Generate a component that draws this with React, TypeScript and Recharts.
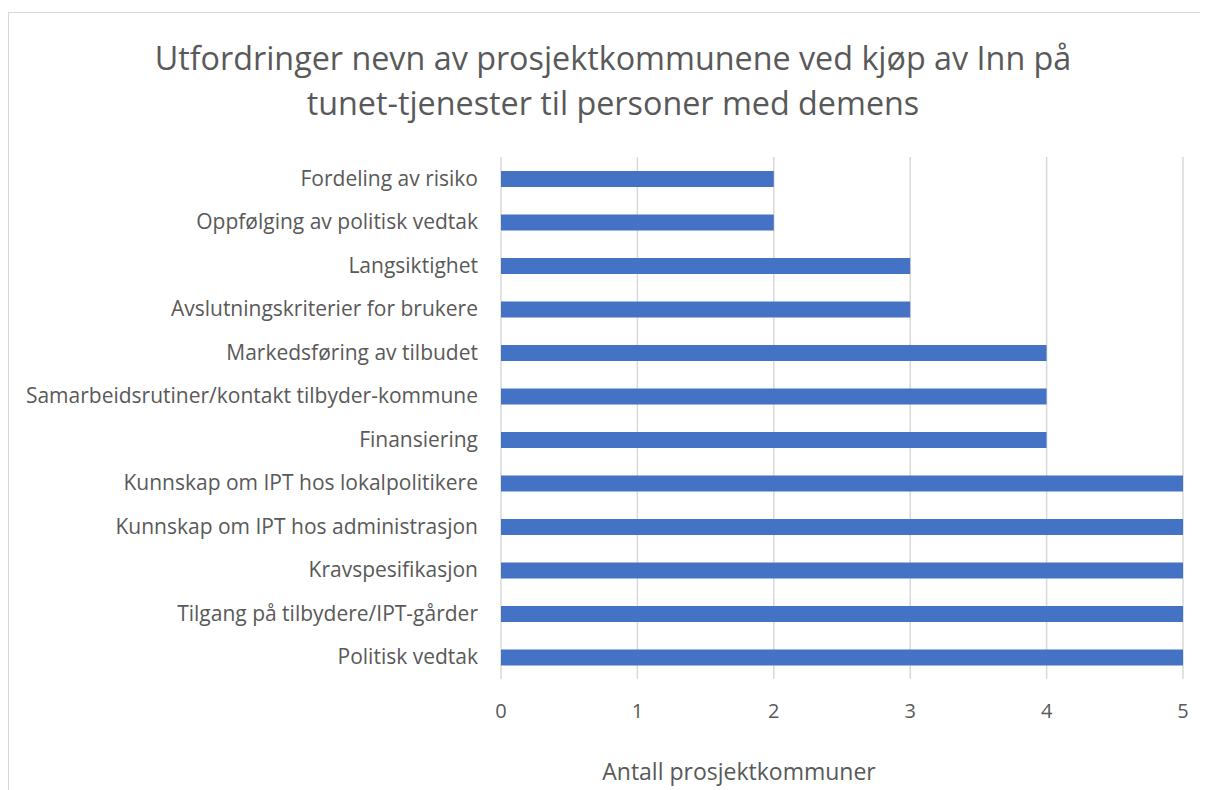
import React from 'react';
import { BarChart, Bar, XAxis, YAxis, CartesianGrid } from 'recharts';

const categories = [
  'Fordeling av risiko',
  'Oppfølging av politisk vedtak',
  'Langsiktighet',
  'Avslutningskriterier for brukere',
  'Markedsføring av tilbudet',
  'Samarbeidsrutiner/kontakt tilbyder-kommune',
  'Finansiering',
  'Kunnskap om IPT hos lokalpolitikere',
  'Kunnskap om IPT hos administrasjon',
  'Kravspesifikasjon',
  'Tilgang på tilbydere/IPT-gårder',
  'Politisk vedtak',
];
const counts = [2, 2, 3, 3, 4, 4, 4, 5, 5, 5, 5, 5];
const xTicks = [0, 1, 2, 3, 4, 5];

const titleLines = [
  'Utfordringer nevn av prosjektkommunene ved kjøp av Inn på',
  'tunet-tjenester til personer med demens',
];
const xLabel = 'Antall prosjektkommuner';

const FONT = '"Open Sans", Lato, sans-serif';
const GREY = '#595959';

const data = categories.map((name, i) => ({ name, value: counts[i] }));

export default function App() {
  return (
    <div style={{ width: 1200, height: 782, overflow: 'hidden', position: 'relative', fontFamily: FONT }}>
      <div
        style={{
          position: 'absolute',
          left: 0,
          top: 4,
          width: 1300,
          height: 900,
          border: '1px solid #d9d9d9',
          boxSizing: 'border-box',
        }}
      />
      <div
        style={{
          position: 'absolute',
          left: 0,
          top: 27,
          width: 1210,
          textAlign: 'center',
          color: GREY,
          fontSize: 32.3,
          lineHeight: '45px',
        }}
      >
        {titleLines.map(t => (
          <div key={t}>{t}</div>
        ))}
      </div>
      <div
        style={{
          position: 'absolute',
          left: 431,
          width: 600,
          top: 747,
          textAlign: 'center',
          color: GREY,
          fontSize: 23,
        }}
      >
        {xLabel}
      </div>
      <div style={{ position: 'absolute', left: 0, top: 0 }}>
        <BarChart
          width={1200}
          height={782}
          layout="vertical"
          data={data}
          margin={{ top: 149, right: 25, left: 0, bottom: 11 }}
        >
          <CartesianGrid horizontal={false} stroke="#d9d9d9" strokeWidth={1.5} />
          <XAxis
            type="number"
            domain={[0, 5]}
            ticks={xTicks}
            height={100}
            axisLine={false}
            tickLine={false}
            tickSize={0}
            tickMargin={0}
            tick={(props: any) => (
              <text x={props.x} y={props.y + 39} textAnchor="middle" fill={GREY} fontSize={20} fontFamily={FONT}>
                {props.payload.value}
              </text>
            )}
          />
          <YAxis
            type="category"
            dataKey="name"
            width={493}
            axisLine={false}
            tickLine={false}
            tickSize={0}
            tickMargin={0}
            interval={0}
            tick={(props: any) => (
              <text x={props.x - 23} y={props.y} dy={7} textAnchor="end" fill={GREY} fontSize={21} fontFamily={FONT}>
                {props.payload.value}
              </text>
            )}
          />
          <Bar dataKey="value" fill="#4472C4" barSize={16} isAnimationActive={false} />
        </BarChart>
      </div>
    </div>
  );
}
